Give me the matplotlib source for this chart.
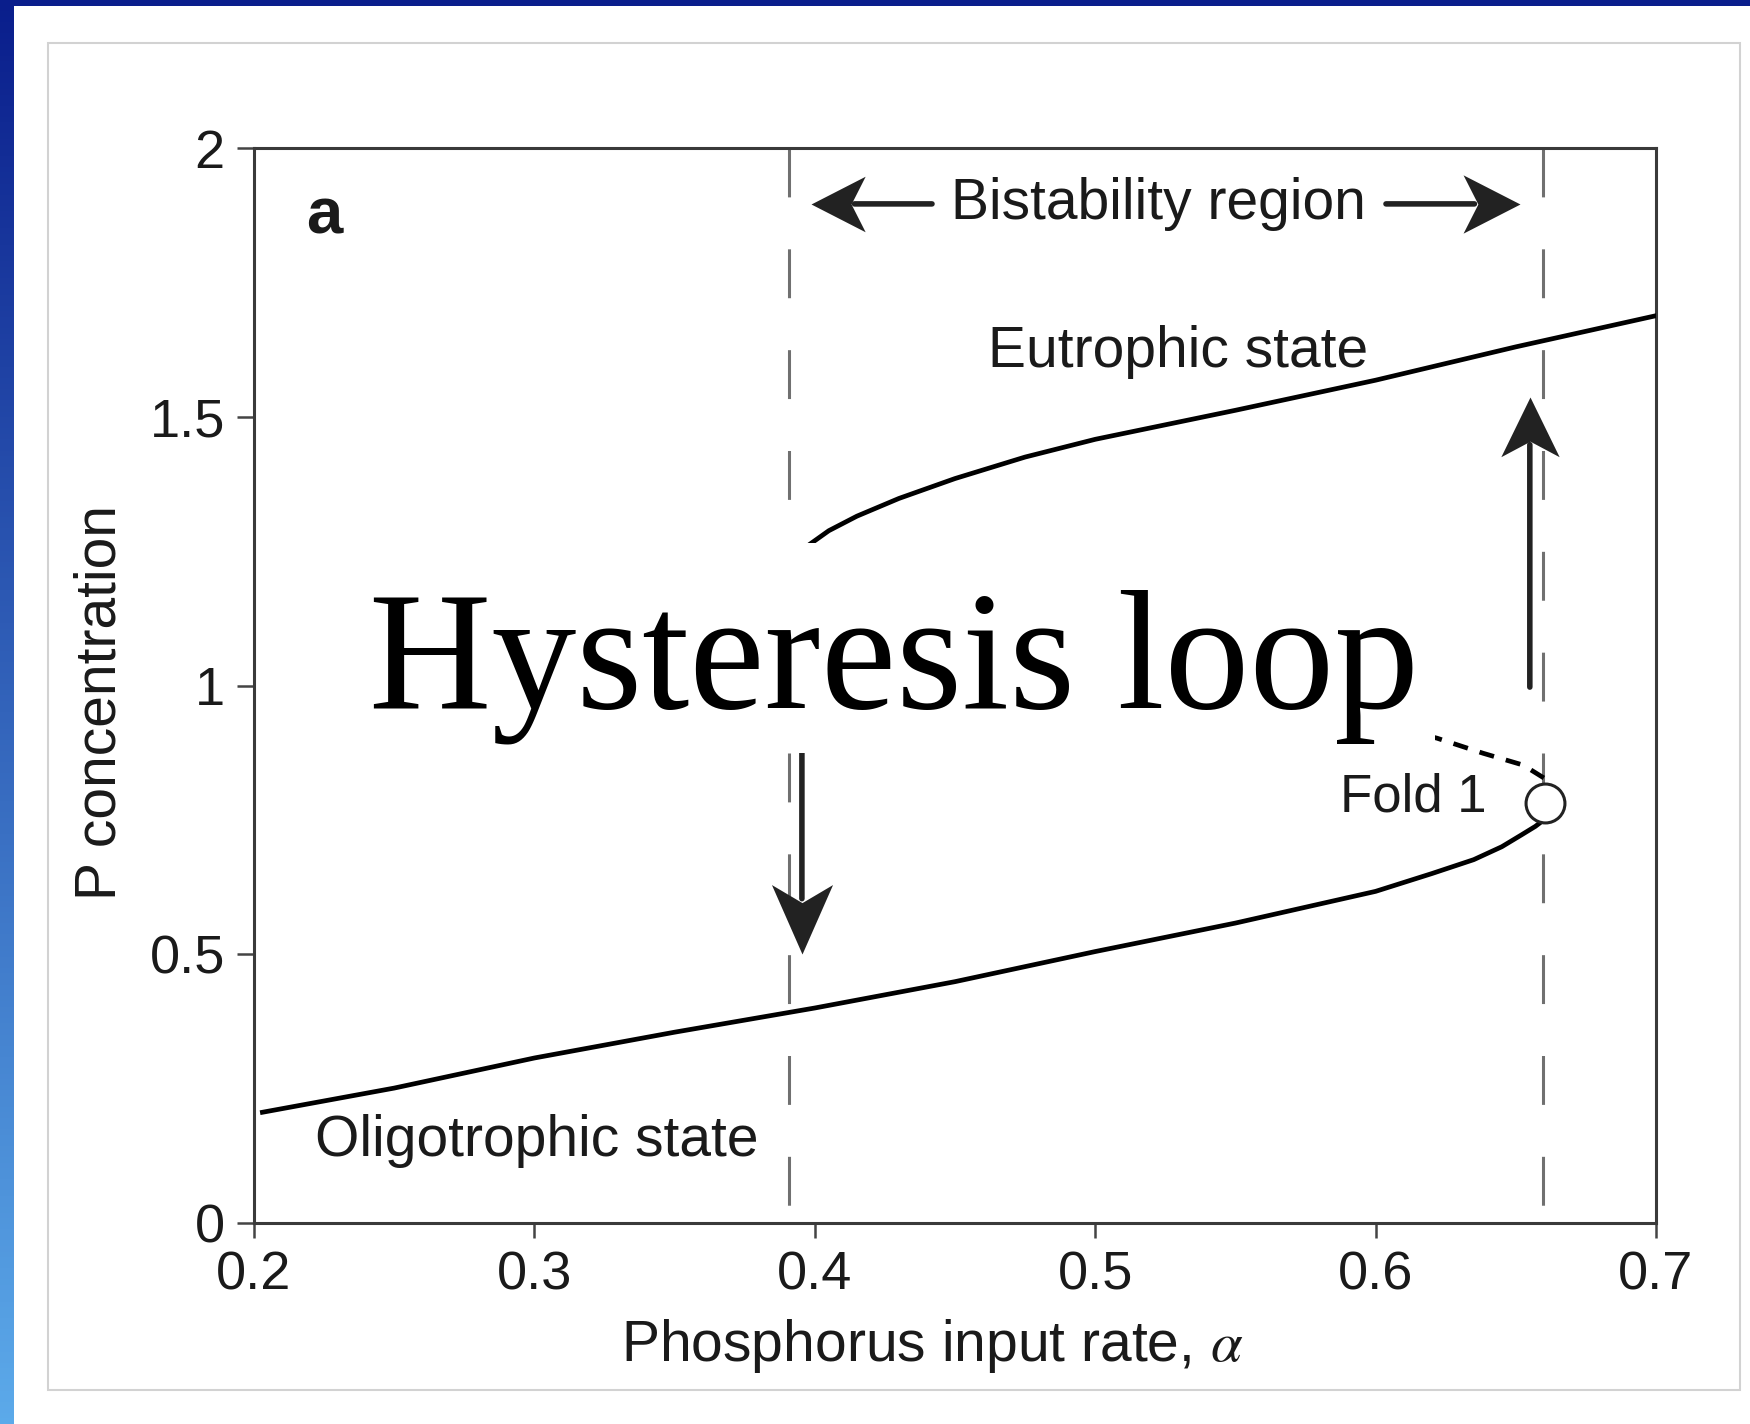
import numpy as np
import matplotlib
matplotlib.use('Agg')
import matplotlib.pyplot as plt
from matplotlib.patches import Rectangle
from matplotlib.path import Path

plt.rcParams['font.family'] = ['Liberation Sans', 'DejaVu Sans']
plt.rcParams['mathtext.fontset'] = 'stix'

# upper stable branch (eutrophic), starts at fold 2
eutro_x = [0.391, 0.392, 0.395, 0.398, 0.405, 0.415, 0.43, 0.45, 0.475, 0.50, 0.55, 0.60, 0.65, 0.70]
eutro_y = [1.17, 1.20, 1.235, 1.262, 1.288, 1.315, 1.348, 1.385, 1.425, 1.458, 1.512, 1.568, 1.630, 1.688]

# lower stable branch (oligotrophic), ends at fold 1
oligo_x = [0.203, 0.25, 0.30, 0.35, 0.40, 0.45, 0.50, 0.55, 0.60, 0.62, 0.635, 0.645, 0.652, 0.657, 0.6595]
oligo_y = [0.206, 0.251, 0.307, 0.355, 0.40, 0.449, 0.505, 0.558, 0.617, 0.650, 0.676, 0.700, 0.722, 0.738, 0.748]

# unstable branch (dashed), fold 1 -> fold 2
unst_x = [0.6600, 0.6526, 0.6383, 0.6219, 0.60, 0.55, 0.50, 0.45, 0.42, 0.40, 0.391]
unst_y = [0.828, 0.852, 0.874, 0.902, 0.93, 0.98, 1.03, 1.08, 1.11, 1.14, 1.17]

fold_x, fold_y = 0.6604, 0.781
bistab_lo, bistab_hi = 0.3908, 0.6597

# arrows: (tail x, tail y, tip x, tip y)
arrow_down = (0.3954, 1.10, 0.3954, 0.50)
arrow_up = (0.655, 0.997, 0.655, 1.537)
arrow_left = (0.4418, 1.896, 0.3987, 1.896)
arrow_right = (0.6037, 1.896, 0.6515, 1.896)

xticks = [0.2, 0.3, 0.4, 0.5, 0.6, 0.7]
xtick_labels = ['0.2', '0.3', '0.4', '0.5', '0.6', '0.7']
yticks = [0, 0.5, 1, 1.5, 2]
ytick_labels = ['0', '0.5', '1', '1.5', '2']


def stealth(angle, length, half_w):
    """Notched arrow head, tip at the origin, pointing at `angle` degrees."""
    v = np.array([[0, 0], [-length, half_w], [-0.74 * length, 0], [-length, -half_w], [0, 0]])
    c, s = np.cos(np.radians(angle)), np.sin(np.radians(angle))
    v = v @ np.array([[c, s], [-s, c]])
    return Path(v, [Path.MOVETO, Path.LINETO, Path.LINETO, Path.LINETO, Path.CLOSEPOLY])


def draw_arrow(ax, arrow, angle, length, half_w, color='#222222'):
    x0, y0, x1, y1 = arrow
    ax.annotate('', xy=(x1, y1), xytext=(x0, y0), zorder=4,
                arrowprops=dict(arrowstyle='-', lw=4, color=color,
                                shrinkA=0, shrinkB=0.8 * length))
    ax.plot([x1], [y1], marker=stealth(angle, length, half_w), ms=2 * length,
            color=color, mew=0, zorder=4)


W, H = 1750, 1424
fig = plt.figure(figsize=(W / 100, H / 100), dpi=100, facecolor='white')

# slide decoration: blue bars and the picture frame
fig.add_artist(Rectangle((0, 1 - 6 / H), 1, 6 / H, transform=fig.transFigure,
                         facecolor='#0a1e8c', edgecolor='none', zorder=1))
band = fig.add_axes([0, 0, 14 / W, 1])
grad = np.linspace(0, 1, 256)[:, None]
c_top = np.array([0x0a, 0x1e, 0x8c]) / 255
c_bot = np.array([0x5c, 0xaa, 0xea]) / 255
band.imshow((c_top + grad[..., None] * (c_bot - c_top)), aspect='auto')
band.axis('off')
fig.add_artist(Rectangle((48 / W, (H - 1390) / H), (1740 - 48) / W, (1390 - 43) / H,
                         transform=fig.transFigure, facecolor='white',
                         edgecolor='#d2d2d2', lw=1.5, zorder=-1))

ax = fig.add_axes([254 / W, (H - 1223) / H, (1656 - 254) / W, (1223 - 148) / H])
ax.set_facecolor('white')

ax.plot([bistab_lo, bistab_lo], [2, 0], color='#707070', lw=2.2, dashes=[16, 17], zorder=1)
ax.plot([bistab_hi, bistab_hi], [2, 0], color='#707070', lw=2.2, dashes=[16, 17], zorder=1)

ax.plot(eutro_x, eutro_y, color='black', lw=3.4, zorder=3, solid_joinstyle='round')
ax.plot(oligo_x, oligo_y, color='black', lw=3.4, zorder=3, solid_joinstyle='round')
ax.plot(unst_x, unst_y, color='black', lw=3.4, dashes=[3.2, 2.6], zorder=3)
ax.plot([fold_x], [fold_y], 'o', ms=28, mfc='white', mec='#222222', mew=2.2, zorder=4)

draw_arrow(ax, arrow_down, -90, 50, 22)
draw_arrow(ax, arrow_up, 90, 43, 21)
draw_arrow(ax, arrow_left, 180, 39, 20)
draw_arrow(ax, arrow_right, 0, 41, 21)

txt = dict(fontsize=41, color='#1a1a1a', ha='center', va='center')
ax.text(0.5224, 1.896, 'Bistability region', **txt)
ax.text(0.5295, 1.62, 'Eutrophic state', **txt)
ax.text(0.301, 0.153, 'Oligotrophic state', **txt)
ax.text(0.6133, 0.791, 'Fold 1', **dict(txt, fontsize=38))
ax.text(0.225, 1.872, 'a', fontsize=47, fontweight='bold', color='#1a1a1a',
        ha='center', va='center')

ax.set_xlim(0.2, 0.7)
ax.set_ylim(0, 2)
ax.set_xticks(xticks)
ax.set_xticklabels(xtick_labels)
ax.set_yticks(yticks)
ax.set_yticklabels(ytick_labels)
ax.tick_params(direction='out', width=1.8, color='#444444', labelsize=39,
               labelcolor='#1a1a1a')
ax.tick_params(axis='x', length=11, pad=9)
ax.tick_params(axis='y', length=12, pad=9)
for sp in ax.spines.values():
    sp.set_color('#3a3a3a')
    sp.set_linewidth(2.2)

ax.set_xlabel(r'Phosphorus input rate, $\alpha$', fontsize=41, color='#1a1a1a')
ax.set_ylabel('P concentration', fontsize=41, color='#1a1a1a')
ax.xaxis.set_label_coords(0.484, -0.087)
ax.yaxis.set_label_coords(-0.090, 0.484)

# white box with the overlaid slide caption
fig.add_artist(Rectangle((590 / W, (H - 753) / H), (1435 - 590) / W, (753 - 543) / H,
                         transform=fig.transFigure, facecolor='white',
                         edgecolor='none', zorder=5))
fig.text(894 / W, (H - 707) / H, 'Hysteresis loop', fontsize=122,
         family='Liberation Serif', color='black', ha='center', va='baseline', zorder=6)

fig.savefig('out.png', dpi=100, facecolor='white')
